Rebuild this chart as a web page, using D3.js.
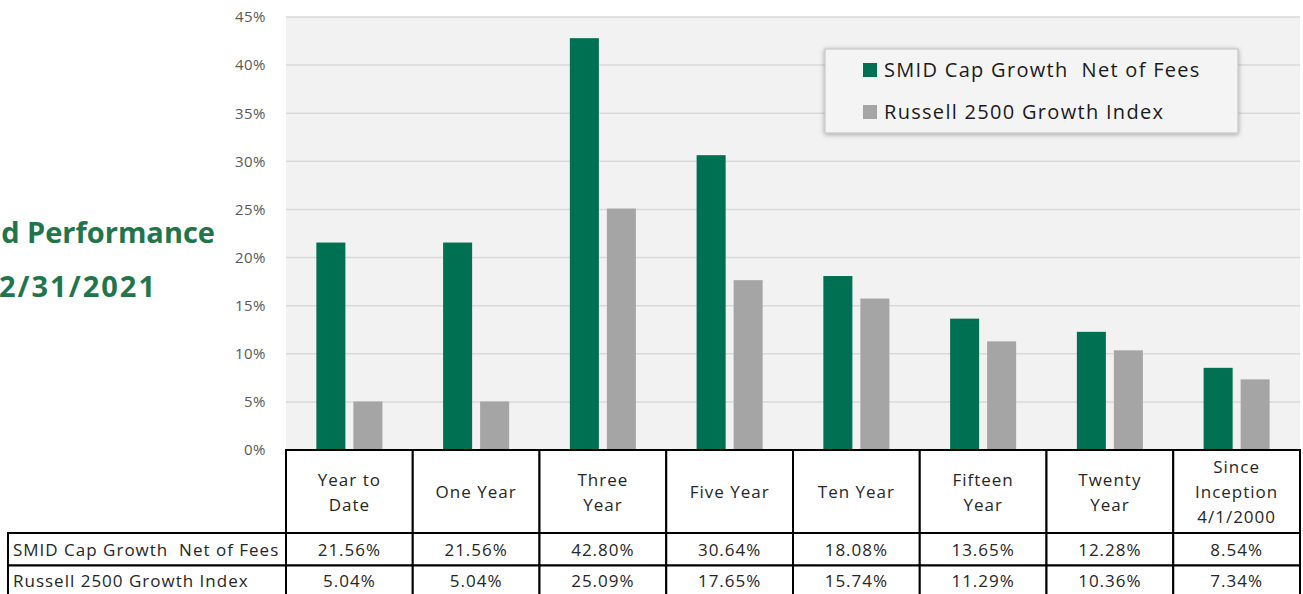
<!DOCTYPE html>
<html>
<head>
<meta charset="utf-8">
<script src="https://cdn.jsdelivr.net/npm/d3@7"></script>
<style>
  body { margin: 0; background: #fff; }
  svg { display: block; font-family: "Open Sans", Lato, sans-serif; }
</style>
</head>
<body>
<svg width="1303" height="594"></svg>
<script>
var categories = ["Year to Date", "One Year", "Three Year", "Five Year", "Ten Year", "Fifteen Year", "Twenty Year", "Since Inception 4/1/2000"];
var headerLines = [["Year to", "Date"], ["One Year"], ["Three", "Year"], ["Five Year"], ["Ten Year"], ["Fifteen", "Year"], ["Twenty", "Year"], ["Since", "Inception", "4/1/2000"]];
var seriesNames = ["SMID Cap Growth  Net of Fees", "Russell 2500 Growth Index"];
var smidValues = [21.56, 21.56, 42.80, 30.64, 18.08, 13.65, 12.28, 8.54];
var russellValues = [5.04, 5.04, 25.09, 17.65, 15.74, 11.29, 10.36, 7.34];
var yTicks = [0, 5, 10, 15, 20, 25, 30, 35, 40, 45];
var titleLines = ["d Performance", "2/31/2021"];

var colorScheme = ["#007052", "#a5a5a5"];
var allSeries = [smidValues, russellValues];

var svg = d3.select("svg");

var plot = {left: 286, right: 1300, top: 17, bottom: 450};

var x = d3.scaleBand().domain(categories).range([plot.left, plot.right]);
var xInner = d3.scaleBand().domain(d3.range(seriesNames.length))
               .range([0, x.bandwidth()])
               .paddingInner(0.216).paddingOuter(0.82);
var y = d3.scaleLinear().domain([0, 45]).range([plot.bottom, plot.top]);

// plot background
svg.append("rect")
   .attr("x", plot.left).attr("y", plot.top)
   .attr("width", plot.right - plot.left).attr("height", plot.bottom - plot.top)
   .style("fill", "#f2f2f2");

// gridlines
svg.append("g")
   .selectAll("line")
   .data(yTicks)
   .enter().append("line")
   .attr("x1", plot.left).attr("x2", plot.right)
   .attr("y1", function(d){ return y(d); })
   .attr("y2", function(d){ return y(d); })
   .style("stroke", "#d9d9d9")
   .style("stroke-width", 1.5);

// y axis
var yAxis = svg.append("g")
   .attr("transform", "translate(" + (plot.left - 17) + ",0)")
   .call(d3.axisLeft(y).tickValues(yTicks).tickSize(0).tickFormat(function(d){ return d + "%"; }));
yAxis.select(".domain").remove();
yAxis.selectAll("text")
   .style("font-family", "'Open Sans', Lato, sans-serif")
   .style("font-size", "15px")
   .style("letter-spacing", "0.5px")
   .style("fill", "#595959");

// bars
var groups = svg.append("g")
   .selectAll("g")
   .data(allSeries)
   .enter().append("g")
   .style("fill", function(d, i){ return colorScheme[i]; });

groups.each(function(vals, si) {
  d3.select(this).selectAll("rect")
    .data(vals)
    .enter().append("rect")
    .attr("x", function(d, i){ return x(categories[i]) + xInner(si); })
    .attr("width", xInner.bandwidth())
    .attr("y", function(d){ return y(d); })
    .attr("height", function(d){ return y(0) - y(d); });
});

// legend
var legend = svg.append("g").attr("transform", "translate(825,49)");
var defs = svg.append("defs");
var filt = defs.append("filter").attr("id", "shadow").attr("x", "-10%").attr("y", "-20%").attr("width", "120%").attr("height", "150%");
filt.append("feDropShadow").attr("dx", 0).attr("dy", 1).attr("stdDeviation", 2.5).attr("flood-color", "#000").attr("flood-opacity", 0.35);
legend.append("rect")
   .attr("width", 413).attr("height", 84)
   .style("fill", "#f4f4f4")
   .style("stroke", "#bfbfbf")
   .style("stroke-width", 1)
   .attr("filter", "url(#shadow)");
legend.selectAll("rect.key")
   .data(seriesNames)
   .enter().append("rect")
   .attr("class", "key")
   .attr("x", 38).attr("y", function(d, i){ return 14 + 42 * i; })
   .attr("width", 14).attr("height", 14)
   .style("fill", function(d, i){ return colorScheme[i]; });
legend.selectAll("text")
   .data(seriesNames)
   .enter().append("text")
   .attr("x", 59).attr("y", function(d, i){ return 21 + 42 * i; })
   .attr("dy", "0.35em")
   .style("font-size", "20px")
   .style("letter-spacing", "1.3px")
   .style("fill", "#1a1a1a")
   .attr("xml:space", "preserve")
   .text(function(d){ return d; });

// title (cut off on the left like the original)
svg.selectAll("text.title")
   .data(titleLines)
   .enter().append("text")
   .attr("class", "title")
   .attr("x", function(d, i){ return i === 0 ? 215 : 157; })
   .attr("y", function(d, i){ return 243 + 54 * i; })
   .attr("text-anchor", "end")
   .style("font-size", "29px")
   .style("font-weight", "bold")
   .style("letter-spacing", function(d, i){ return i === 0 ? "0px" : "2px"; })
   .style("fill", "#22744a")
   .text(function(d){ return d; });

// data table
var rowTop = [450, 533, 565.5];
var tableBottom = 598;
var table = svg.append("g");
var lineStyle = function(sel){ return sel.style("stroke", "#000").style("stroke-width", 2); };

// header cells
table.selectAll("rect.head")
   .data(categories)
   .enter().append("rect")
   .attr("class", "head")
   .attr("x", function(d){ return x(d); })
   .attr("y", rowTop[0])
   .attr("width", x.bandwidth())
   .attr("height", rowTop[1] - rowTop[0])
   .style("fill", "#fff")
   .call(lineStyle);

// value rows including label column
[0, 1].forEach(function(r) {
  var top = rowTop[r + 1];
  var bottom = r === 0 ? rowTop[2] : tableBottom;
  var mid = (top + Math.min(bottom, 594)) / 2 + 1;
  table.append("rect")
     .attr("x", 8).attr("y", top)
     .attr("width", plot.left - 8).attr("height", bottom - top)
     .style("fill", "#fff").call(lineStyle);
  table.selectAll("rect.cell" + r)
     .data(categories)
     .enter().append("rect")
     .attr("class", "cell" + r)
     .attr("x", function(d){ return x(d); })
     .attr("y", top)
     .attr("width", x.bandwidth())
     .attr("height", bottom - top)
     .style("fill", "#fff").call(lineStyle);
  table.append("text")
     .attr("x", 13).attr("y", mid)
     .attr("dy", "0.35em")
     .attr("xml:space", "preserve")
     .style("font-size", "17px")
     .style("letter-spacing", "1px")
     .style("fill", "#262626")
     .text(seriesNames[r]);
  table.selectAll("text.val" + r)
     .data(allSeries[r])
     .enter().append("text")
     .attr("class", "val" + r)
     .attr("x", function(d, i){ return x(categories[i]) + x.bandwidth() / 2; })
     .attr("y", mid)
     .attr("dy", "0.35em")
     .attr("text-anchor", "middle")
     .style("font-size", "17px")
     .style("letter-spacing", "1px")
     .style("fill", "#262626")
     .text(function(d){ return d.toFixed(2) + "%"; });
});

// header text
table.selectAll("text.head")
   .data(headerLines)
   .enter().append("text")
   .attr("class", "head")
   .attr("text-anchor", "middle")
   .style("font-size", "17px")
   .style("letter-spacing", "1px")
   .style("fill", "#262626")
   .each(function(lines, i) {
     var cx = x(categories[i]) + x.bandwidth() / 2;
     var cy = (rowTop[0] + rowTop[1]) / 2 + 1;
     d3.select(this).selectAll("tspan")
       .data(lines)
       .enter().append("tspan")
       .attr("x", cx)
       .attr("y", function(d, j){ return cy + (j - (lines.length - 1) / 2) * 25; })
       .attr("dy", "0.35em")
       .text(function(d){ return d; });
   });
</script>
</body>
</html>
